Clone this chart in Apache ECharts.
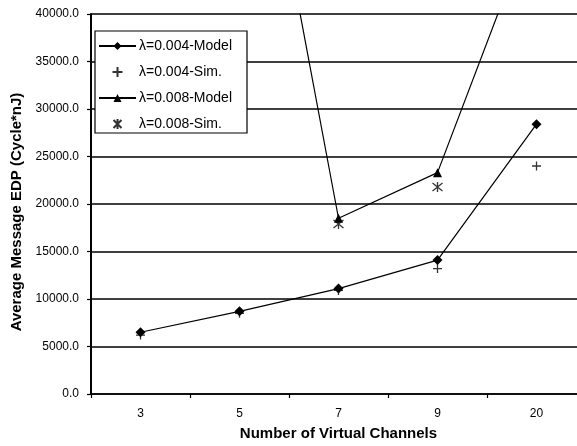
<!DOCTYPE html>
<html>
<head>
<meta charset="utf-8">
<script src="https://cdn.jsdelivr.net/npm/echarts@6/dist/echarts.min.js"></script>
<style>
  html, body { margin: 0; padding: 0; background: #fff; }
  #chart { width: 577px; height: 446px; }
</style>
</head>
<body>
<div id="chart"></div>
<script>
// Number of virtual channels on the x axis
const categories = ['3', '5', '7', '9', '20'];

// Average message EDP (Cycle*nJ) per configuration
const model004 = [6500, 8700, 11100, 14100, 28400];
const sim004   = [6200, 8500, 10900, 13200, 24000];
const model008 = [null, 74000, 18500, 23300, 50700];
const sim008   = [null, null, 17900, 21800, null];

const seriesNames = ['λ=0.004-Model', 'λ=0.004-Sim.', 'λ=0.008-Model', 'λ=0.008-Sim.'];

const yMin = 0, yMax = 40000, yStep = 5000;

const FONT = '"Liberation Sans", Arial, sans-serif';
const INK = '#000';

const plusPath = 'path://M0,5L10,5M5,0L5,10';
const starPath = 'path://M1,1L9,9M9,1L1,9M5,0L5,10';

const chart = echarts.init(document.getElementById('chart'), null, { renderer: 'canvas' });

chart.setOption({
  animation: false,
  backgroundColor: '#fff',
  // plot area runs a little past the right edge of the canvas
  grid: { left: 91, width: 495, top: 14, bottom: 52, containLabel: false, outerBoundsMode: 'none' },
  legend: {
    orient: 'vertical',
    left: 95,
    top: 31,
    padding: [8, 15, 2, 3],
    itemWidth: 37,
    itemHeight: 10,
    itemGap: 12,
    backgroundColor: '#fff',
    borderColor: INK,
    borderWidth: 1.2,
    textStyle: { fontFamily: FONT, fontSize: 14, color: INK, padding: [0, 0, 0, -2] },
    data: seriesNames
  },
  xAxis: {
    type: 'category',
    data: categories,
    boundaryGap: true,
    name: 'Number of Virtual Channels',
    nameLocation: 'middle',
    nameGap: 32,
    nameTextStyle: { fontFamily: FONT, fontSize: 15, fontWeight: 'bold', color: INK },
    axisLine: { show: true, lineStyle: { color: INK, width: 1.5 } },
    axisTick: { show: true, length: 4, alignWithLabel: false, lineStyle: { color: INK, width: 1.2 } },
    axisLabel: { fontFamily: FONT, fontSize: 12, color: INK, margin: 14 },
    splitLine: { show: false }
  },
  yAxis: {
    type: 'value',
    min: yMin,
    max: yMax,
    interval: yStep,
    name: 'Average Message EDP (Cycle*nJ)',
    nameLocation: 'middle',
    nameGap: 65,
    nameTextStyle: { fontFamily: FONT, fontSize: 15, fontWeight: 'bold', color: INK, padding: [0, 16, 0, 0] },
    axisLine: { show: true, lineStyle: { color: INK, width: 2 } },
    axisTick: { show: true, length: 4, lineStyle: { color: INK, width: 1.2 } },
    axisLabel: {
      fontFamily: FONT, fontSize: 12, color: INK, margin: 12,
      formatter: v => v.toFixed(1)
    },
    splitLine: { show: true, lineStyle: { color: INK, width: 1.5 } }
  },
  series: [
    {
      name: seriesNames[0],
      type: 'line',
      data: model004,
      symbol: 'diamond',
      symbolSize: 10,
      itemStyle: { color: INK },
      lineStyle: { color: INK, width: 1.2 },
      z: 3
    },
    {
      name: seriesNames[1],
      type: 'scatter',
      data: sim004,
      symbol: plusPath,
      symbolSize: 9,
      itemStyle: { color: 'transparent', borderColor: INK, borderWidth: 1.3 },
      z: 4
    },
    {
      name: seriesNames[2],
      type: 'line',
      data: model008,
      connectNulls: false,
      symbol: 'triangle',
      symbolSize: 9,
      itemStyle: { color: INK },
      lineStyle: { color: INK, width: 1.2 },
      clip: true,
      z: 3
    },
    {
      name: seriesNames[3],
      type: 'scatter',
      data: sim008,
      symbol: starPath,
      symbolSize: 10,
      itemStyle: { color: 'transparent', borderColor: INK, borderWidth: 1.3 },
      z: 4
    }
  ]
});
</script>
</body>
</html>
